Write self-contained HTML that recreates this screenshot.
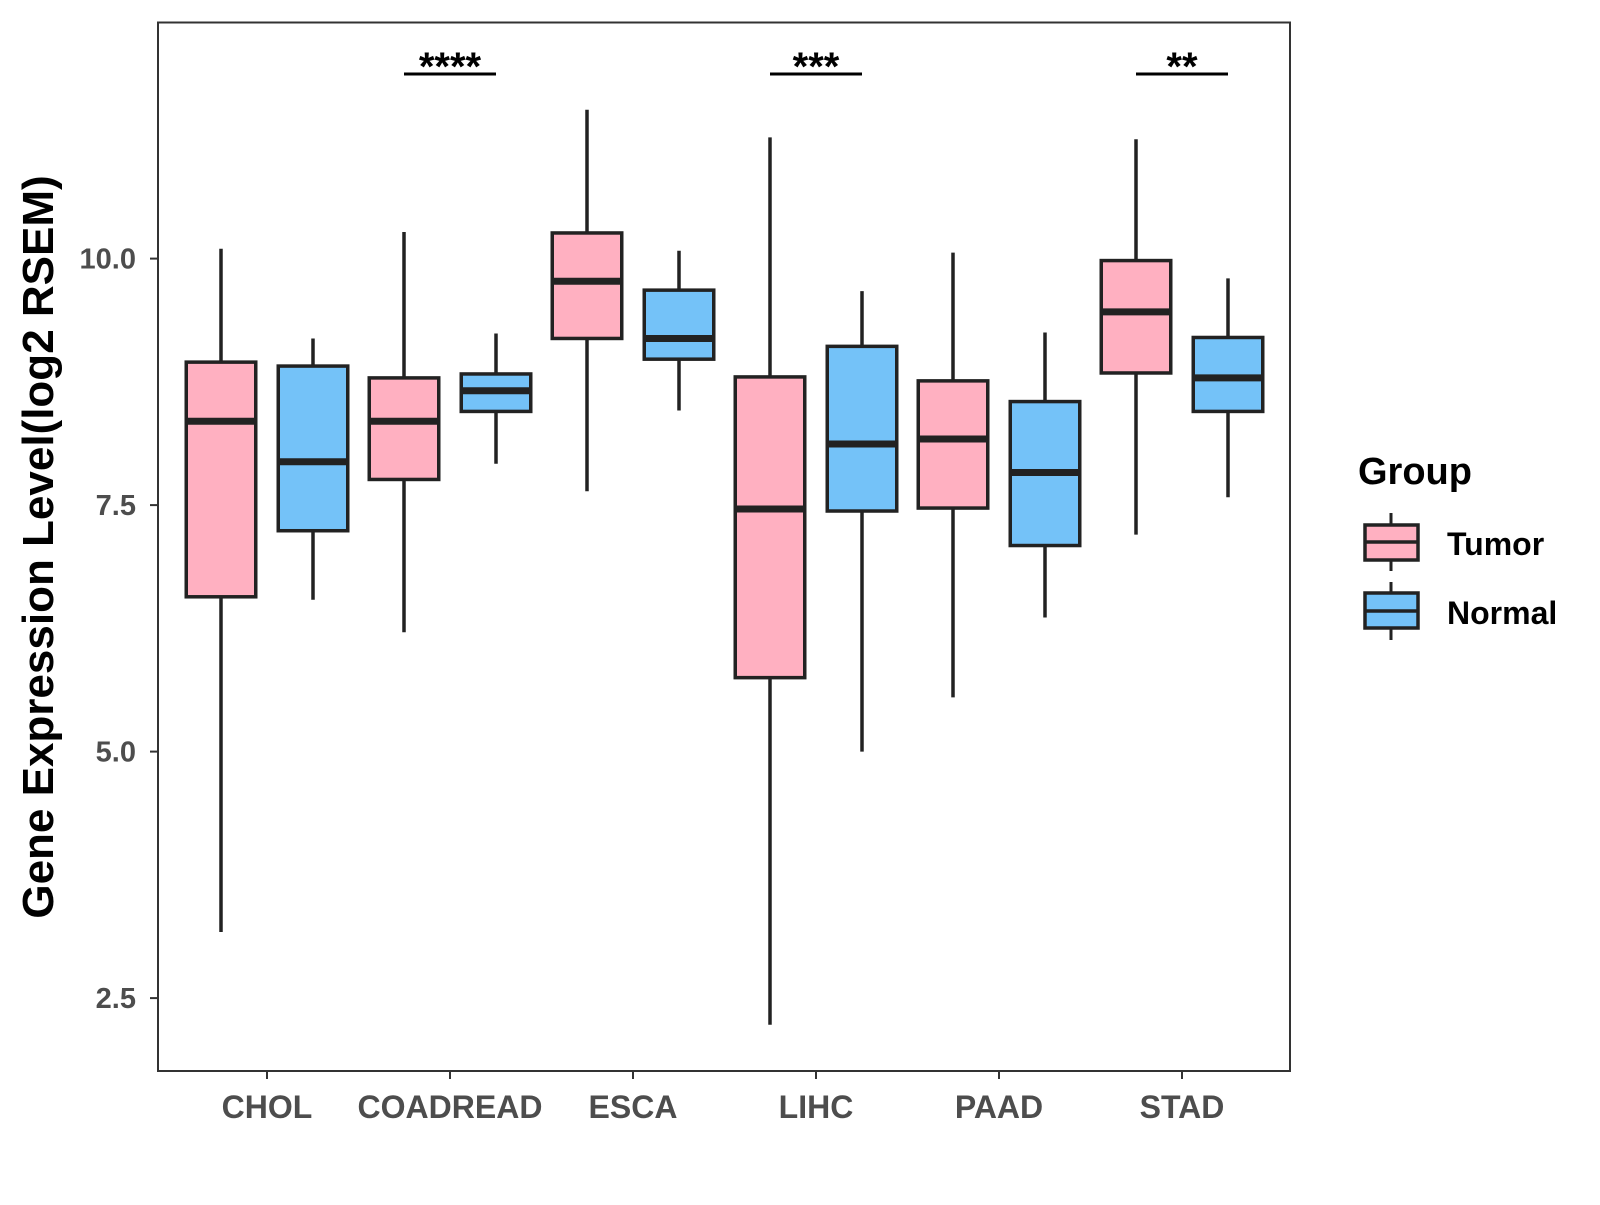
<!DOCTYPE html>
<html><head><meta charset="utf-8"><style>
body{margin:0;background:#fff}
svg text{font-family:"Liberation Sans",Arial,sans-serif;font-weight:bold}
</style></head><body>
<svg id="chart" width="1600" height="1200" xmlns="http://www.w3.org/2000/svg">
<rect x="158" y="22.5" width="1132" height="1048.5" fill="#fff" stroke="#333" stroke-width="2"/>
<g id="marks"></g>
<text x="53" y="547" transform="rotate(-90 53 547)" text-anchor="middle" font-size="44" fill="#000">Gene Expression Level(log2 RSEM)</text>
<g>
<text x="1358" y="484" font-size="38" fill="#000">Group</text>
<g>
<line x1="1391" y1="513" x2="1391" y2="571" stroke="#222" stroke-width="3"/>
<rect x="1365" y="525" width="53" height="35" fill="#FFB0C1" stroke="#222" stroke-width="3.5"/>
<line x1="1365" y1="542" x2="1418" y2="542" stroke="#222" stroke-width="3.5"/>
<text x="1447" y="555" font-size="32" fill="#000">Tumor</text></g>
<g>
<line x1="1391" y1="582" x2="1391" y2="640" stroke="#222" stroke-width="3"/>
<rect x="1365" y="593" width="53" height="35" fill="#74C2F8" stroke="#222" stroke-width="3.5"/>
<line x1="1365" y1="611" x2="1418" y2="611" stroke="#222" stroke-width="3.5"/>
<text x="1447" y="624" font-size="32" fill="#000">Normal</text></g>
</g>
</svg>
<script>
const categories=["CHOL","COADREAD","ESCA","LIHC","PAAD","STAD"];
// [min, q1, median, q3, max]
const tumorStats=[[3.17,6.57,8.35,8.95,10.10],[6.21,7.76,8.35,8.79,10.27],[7.64,9.19,9.77,10.26,11.51],[2.23,5.75,7.46,8.80,11.23],[5.55,7.47,8.17,8.76,10.06],[7.20,8.84,9.46,9.98,11.21]];
const normalStats=[[6.54,7.24,7.94,8.91,9.19],[7.92,8.45,8.66,8.83,9.24],[8.46,8.98,9.19,9.68,10.08],[5.00,7.44,8.12,9.11,9.67],[6.36,7.09,7.83,8.55,9.25],[7.58,8.45,8.79,9.20,9.80]];
const yTicks=[2.5,5.0,7.5,10.0];
const yTickLabels=["2.5","5.0","7.5","10.0"];
const sigLabels=["","****","","***","","**"];

const NS="http://www.w3.org/2000/svg";
const g=document.getElementById("marks");
function y(v){return 258.6+(10-v)*98.6;}
function x(i){return 267+i*183;}
function el(t,a,p){const e=document.createElementNS(NS,t);for(const k in a)e.setAttribute(k,a[k]);(p||g).appendChild(e);return e;}

yTicks.forEach((v,i)=>{
  const t=el("line",{x1:150,x2:158,y1:y(v),y2:y(v),stroke:"#333","stroke-width":2});
  
  
  const l=el("text",{x:136,y:y(v)+10,"text-anchor":"end","font-size":29,fill:"#4d4d4d"});
  l.textContent=yTickLabels[i];
  
  
});
categories.forEach((c,i)=>{
  const t=el("line",{x1:x(i),x2:x(i),y1:1071,y2:1079,stroke:"#333","stroke-width":2});
  
  
  const l=el("text",{x:x(i),y:1118,"text-anchor":"middle","font-size":32,fill:"#4d4d4d"});
  l.textContent=c;
  
  
  [[tumorStats[i],-46,"#FFB0C1","tumor"],[normalStats[i],46,"#74C2F8","normal"]].forEach(([s,off,col,nm])=>{
    const cx=x(i)+off,w=69.5;
    const bg=el("g",{});
    
    
    el("line",{x1:cx,x2:cx,y1:y(s[4]),y2:y(s[0]),stroke:"#222","stroke-width":3.5},bg);
    el("rect",{x:cx-w/2,y:y(s[3]),width:w,height:y(s[1])-y(s[3]),fill:col,stroke:"#222","stroke-width":3.5},bg);
    el("line",{x1:cx-w/2,x2:cx+w/2,y1:y(s[2]),y2:y(s[2]),stroke:"#222","stroke-width":7},bg);
  });
  if(sigLabels[i]){
    const ln=el("line",{x1:x(i)-46,x2:x(i)+46,y1:74,y2:74,stroke:"#000","stroke-width":3});
    
    
    const st=el("text",{x:x(i),y:80,"text-anchor":"middle","font-size":40,fill:"#000"});
    st.textContent=sigLabels[i];
    
    
  }
});
</script>
</body></html>
